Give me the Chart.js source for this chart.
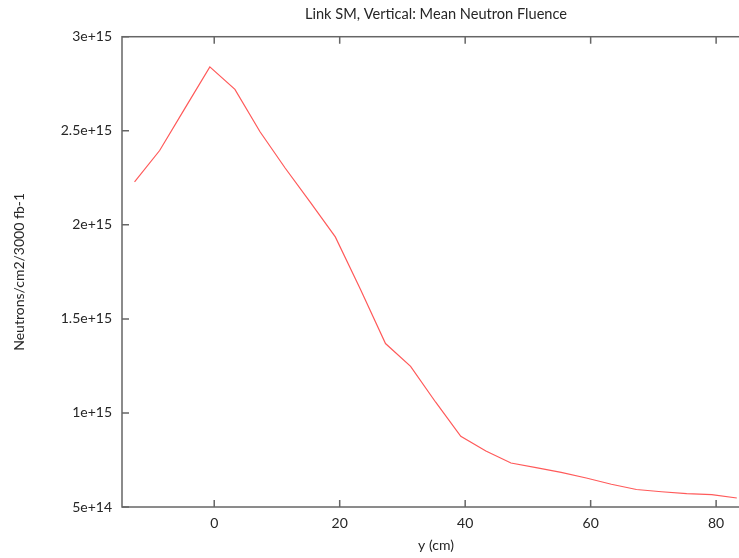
<!DOCTYPE html>
<html>
<head>
<meta charset="utf-8">
<script src="https://cdn.jsdelivr.net/npm/chart.js@4"></script>
<style>
  html, body { margin: 0; padding: 0; background: #fff; overflow: hidden; }
  #wrap { width: 760px; height: 558px; }
</style>
</head>
<body>
<div id="wrap"><canvas id="fluence" width="760" height="558"></canvas></div>
<script>
// y position along the link (cm)
const positions = [-12.7, -8.7, -4.7, -0.7, 3.3, 7.3, 11.3, 15.3, 19.3, 23.3, 27.3, 31.3,
                   35.3, 39.3, 43.3, 47.3, 51.3, 55.3, 59.3, 63.3, 67.3, 71.3, 75.3, 79.3, 83.3];
// mean neutron fluence, neutrons/cm2 per 3000 fb-1
const fluence = [2.229e15, 2.395e15, 2.618e15, 2.840e15, 2.720e15, 2.495e15, 2.302e15, 2.121e15,
                 1.936e15, 1.658e15, 1.369e15, 1.248e15, 1.057e15, 0.876e15, 0.798e15, 0.734e15,
                 0.709e15, 0.684e15, 0.654e15, 0.621e15, 0.593e15, 0.581e15, 0.571e15, 0.566e15,
                 0.548e15];
const xTicks = [0, 20, 40, 60, 80];
const yTicks = [5e14, 1e15, 1.5e15, 2e15, 2.5e15, 3e15];

const FONT = 'Lato, "Open Sans", sans-serif';
const INK = '#262626';

// gnuplot-like box with inward tick marks on all sides
const frameTicks = {
  id: 'frameTicks',
  afterDatasetsDraw(chart) {
    const { ctx, chartArea: a, scales: { x, y } } = chart;
    ctx.save();
    ctx.strokeStyle = '#666';
    ctx.lineWidth = 1.5;
    ctx.strokeRect(a.left, a.top, a.right - a.left, a.bottom - a.top);
    ctx.beginPath();
    x.ticks.forEach(t => {
      const px = x.getPixelForValue(t.value);
      ctx.moveTo(px, a.bottom); ctx.lineTo(px, a.bottom - 7);
      ctx.moveTo(px, a.top); ctx.lineTo(px, a.top + 7);
    });
    y.ticks.forEach(t => {
      const py = y.getPixelForValue(t.value);
      ctx.moveTo(a.left, py); ctx.lineTo(a.left + 7, py);
      ctx.moveTo(a.right, py); ctx.lineTo(a.right - 7, py);
    });
    ctx.stroke();
    ctx.restore();
  }
};

const data = {
  datasets: [{
    data: positions.map((p, i) => ({ x: p, y: fluence[i] })),
    borderColor: 'rgb(255, 90, 90)',
    borderWidth: 1.2,
    pointRadius: 0,
    tension: 0,
    fill: false
  }]
};

const config = {
  type: 'line',
  data,
  options: {
    responsive: false,
    animation: false,
    layout: { padding: { left: 0, right: 10, top: 0, bottom: 0 } },
    plugins: {
      legend: { display: false },
      tooltip: { enabled: false },
      title: {
        display: true,
        fullSize: false,
        text: 'Link SM, Vertical: Mean Neutron Fluence',
        color: INK,
        font: { family: FONT, size: 14.6, weight: 'normal' },
        padding: { top: 5.5, bottom: 13.7 }
      }
    },
    scales: {
      x: {
        type: 'linear',
        min: -14.7,
        max: 85.4,
        afterBuildTicks: s => { s.ticks = xTicks.map(v => ({ value: v })); },
        afterFit: s => { s.height = 51; },
        grid: { display: false, drawTicks: false },
        border: { display: false },
        ticks: { color: INK, padding: 8, font: { family: FONT, size: 14 } },
        title: {
          display: true,
          text: 'y (cm)',
          color: INK,
          font: { family: FONT, size: 14 },
          padding: { top: 0, bottom: 4 }
        }
      },
      y: {
        min: 5e14,
        max: 3e15,
        afterBuildTicks: s => { s.ticks = yTicks.map(v => ({ value: v })); },
        afterFit: s => { s.width = 122; },
        grid: { display: false, drawTicks: false },
        border: { display: false },
        ticks: {
          color: INK,
          padding: 10,
          font: { family: FONT, size: 14 },
          callback: v => Number(v.toPrecision(3)).toExponential()
        },
        title: {
          display: true,
          text: 'Neutrons/cm2/3000 fb-1',
          color: INK,
          font: { family: FONT, size: 14 },
          padding: { top: 11, bottom: 0 }
        }
      }
    }
  },
  plugins: [frameTicks]
};

const fluenceChart = new Chart(document.getElementById('fluence'), config);
</script>
</body>
</html>
